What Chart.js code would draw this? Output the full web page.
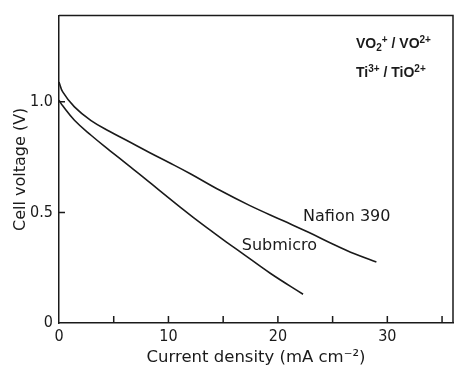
<!DOCTYPE html>
<html>
<head>
<meta charset="utf-8">
<script src="https://cdn.jsdelivr.net/npm/chart.js@4.4.1/dist/chart.umd.min.js"></script>
<style>
    html, body { margin: 0; padding: 0; background: #fff; }
    #wrap { width: 454px; height: 365px; position: relative; }
</style>
</head>
<body>
<div id="wrap"><canvas id="graph"></canvas></div>
<script>
"use strict"

// *** DATI *** //
let nafionX = [0, 0.34, 1.41, 2.93, 4.64, 6.29, 8.3, 10, 12, 14.7, 17.4, 20.5, 22.8, 25.1, 27, 29];
let nafionY = [1.09, 1.045, 0.977, 0.915, 0.866, 0.823, 0.77, 0.727, 0.675, 0.6, 0.532, 0.462, 0.41, 0.355, 0.313, 0.276];
let submicroX = [0, 0.34, 1.41, 2.93, 4.64, 6.29, 7.69, 9.23, 11.04, 12.26, 14.09, 15.3, 16.53, 19.3, 22.3];
let submicroY = [1.007, 0.982, 0.917, 0.849, 0.78, 0.715, 0.66, 0.597, 0.525, 0.478, 0.41, 0.366, 0.323, 0.225, 0.13];
let xTicks = [0, 5, 10, 15, 20, 25, 30, 35];
let yTicks = [0, 0.5, 1.0];
let curveLabels = [
    { text: "Nafion 390", x: 22.3, y: 0.482 },
    { text: "Submicro", x: 16.7, y: 0.351 }
];

let ink = "#1a1a1a";
let tickFont = { family: "'Liberation Sans Narrow', 'DejaVu Sans Condensed', sans-serif", size: 16 };

function toPoints(xs, ys) {
    let pts = [];
    for (let i = 0; i < xs.length; i++)
        pts.push({ x: xs[i], y: ys[i] });
    return pts;
}

// cornice superiore/destra, tacche interne, etichette
let extras = {
    id: "extras",
    afterDraw(chart) {
        let ctx = chart.ctx;
        let a = chart.chartArea;
        let sx = chart.scales.x, sy = chart.scales.y;
        ctx.save();
        ctx.strokeStyle = ink;
        ctx.lineWidth = 1.5;
        ctx.beginPath();
        ctx.moveTo(a.left, a.top);
        ctx.lineTo(a.right, a.top);
        ctx.lineTo(a.right, a.bottom);
        ctx.stroke();

        //tacche
        ctx.beginPath();
        for (let t of sx.ticks) {
            if (t.value == 0) continue;
            let px = sx.getPixelForValue(t.value);
            ctx.moveTo(px, a.bottom);
            ctx.lineTo(px, a.bottom - 7);
        }
        for (let t of sy.ticks) {
            if (t.value == 0) continue;
            let py = sy.getPixelForValue(t.value);
            ctx.moveTo(a.left, py);
            ctx.lineTo(a.left + 6, py);
        }
        ctx.stroke();

        //nomi curve
        ctx.fillStyle = ink;
        ctx.font = "16px 'DejaVu Sans', sans-serif";
        ctx.textBaseline = "middle";
        ctx.textAlign = "left";
        for (let l of curveLabels)
            ctx.fillText(l.text, sx.getPixelForValue(l.x), sy.getPixelForValue(l.y));

        //coppie redox
        drawRich(ctx, [["VO"], ["2", "sub"], ["+", "sup"], [" / VO"], ["2+", "sup"]], a.right - 97, a.top + 32);
        drawRich(ctx, [["Ti"], ["3+", "sup"], [" / TiO"], ["2+", "sup"]], a.right - 97, a.top + 61);
        ctx.restore();
    }
};

function drawRich(ctx, parts, x, y) {
    ctx.textBaseline = "alphabetic";
    ctx.textAlign = "left";
    for (let p of parts) {
        let dy = 0;
        if (p[1] == "sub") { ctx.font = "bold 10px 'Liberation Sans', sans-serif"; dy = 3; }
        else if (p[1] == "sup") { ctx.font = "bold 10px 'Liberation Sans', sans-serif"; dy = -5; }
        else ctx.font = "bold 14px 'Liberation Sans', sans-serif";
        ctx.fillText(p[0], x, y + dy);
        x += ctx.measureText(p[0]).width;
    }
}

let chart = new Chart(document.getElementById("graph"), {
    type: "line",
    data: {
        datasets: [
            {
                label: "Nafion 390",
                data: toPoints(nafionX, nafionY),
                borderColor: ink,
                borderWidth: 1.6,
                pointRadius: 0,
                tension: 0.4
            },
            {
                label: "Submicro",
                data: toPoints(submicroX, submicroY),
                borderColor: ink,
                borderWidth: 1.6,
                pointRadius: 0,
                tension: 0.4
            }
        ]
    },
    options: {
        responsive: true,
        maintainAspectRatio: false,
        animation: false,
        layout: { padding: { top: 14, right: 1, left: 0, bottom: 0 } },
        plugins: {
            legend: { display: false },
            tooltip: { enabled: false }
        },
        scales: {
            x: {
                type: "linear",
                min: 0,
                max: 36,
                afterBuildTicks: function (s) { s.ticks = xTicks.map(v => ({ value: v })); },
                afterFit: function (s) { s.height = 42; },
                grid: { display: false, drawTicks: false },
                border: { color: ink, width: 1.5 },
                ticks: {
                    color: ink,
                    font: tickFont,
                    padding: 4,
                    maxRotation: 0,
                    autoSkip: false,
                    callback: v => (v % 10 == 0 ? String(v) : "")
                },
                title: {
                    display: true,
                    text: "Current density (mA cm\u207B\u00B2)",
                    color: ink,
                    font: { family: "'DejaVu Sans', sans-serif", size: 16.5, lineHeight: 1 },
                    padding: { top: 0, bottom: -1 }
                }
            },
            y: {
                min: 0,
                max: 1.39,
                afterBuildTicks: function (s) { s.ticks = yTicks.map(v => ({ value: v })); },
                afterFit: function (s) { s.width = 59; },
                grid: { display: false, drawTicks: false },
                border: { color: ink, width: 1.5 },
                ticks: {
                    color: ink,
                    font: tickFont,
                    padding: 6,
                    callback: v => (v == 0 ? "0" : v.toFixed(1))
                },
                title: {
                    display: true,
                    text: "Cell voltage (V)",
                    color: ink,
                    font: { family: "'DejaVu Sans', sans-serif", size: 16, lineHeight: 1 },
                    padding: { top: 13, bottom: 0 }
                }
            }
        }
    },
    plugins: [extras]
});
</script>
</body>
</html>
